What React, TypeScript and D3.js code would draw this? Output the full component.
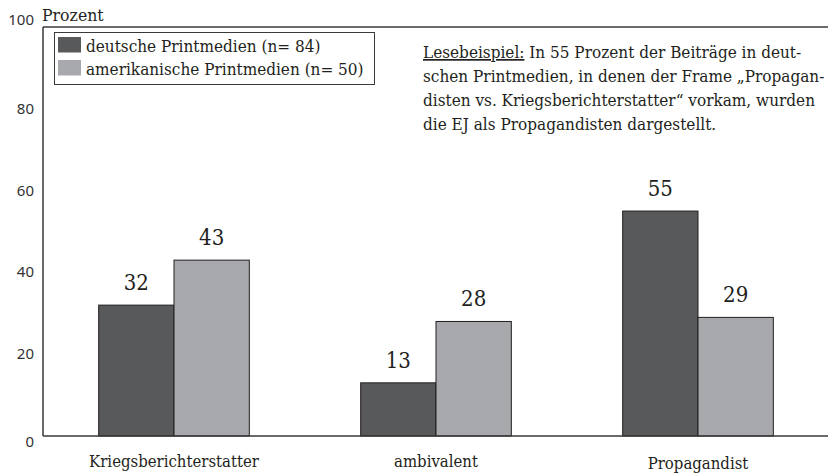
import React, { useEffect, useRef } from 'react';
import * as d3 from 'd3';

const categories = ['Kriegsberichterstatter', 'ambivalent', 'Propagandist'];
const seriesNames = ['deutsche Printmedien (n= 84)', 'amerikanische Printmedien (n= 50)'];
const deutsch = [32, 13, 55];
const amerikanisch = [43, 28, 29];
const yTicks = [0, 20, 40, 60, 80, 100];
const noteLines = [
  'In 55 Prozent der Beiträge in deut-',
  'schen Printmedien, in denen der Frame \u201EPropagan-',
  'disten vs. Kriegsberichterstatter\u201C vorkam, wurden',
  'die EJ als Propagandisten dargestellt.',
];

const colors = ['#58595b', '#a7a9ac'];
const serif = 'DejaVu Serif';
const sans = 'Noto Sans';

function App() {
  const svgRef = useRef<SVGSVGElement>(null);
  const width = 828;
  const height = 473;

  useEffect(() => {
    const svg = d3.select(svgRef.current);
    svg.selectAll('*').remove();

    const left = 43;
    const top = 27;
    const bottom = 436;

    const x = d3.scaleBand().domain(categories).range([left, 829]).paddingInner(0.425).paddingOuter(0.2125);
    const xSub = d3.scaleBand().domain(['d', 'a']).range([0, x.bandwidth()]);
    const y = d3.scaleLinear().domain([0, 100]).range([bottom, top]);

    // bars
    const series = [deutsch, amerikanisch];
    series.forEach((vals, si) => {
      svg.append('g')
        .selectAll('rect')
        .data(vals)
        .enter()
        .append('rect')
        .attr('x', (d, i) => x(categories[i])! + xSub(si === 0 ? 'd' : 'a')!)
        .attr('y', d => y(d))
        .attr('width', xSub.bandwidth())
        .attr('height', d => bottom - y(d))
        .attr('fill', colors[si])
        .attr('stroke', '#231f20')
        .attr('stroke-width', 1);

      svg.append('g')
        .selectAll('text')
        .data(vals)
        .enter()
        .append('text')
        .attr('x', (d, i) => x(categories[i])! + xSub(si === 0 ? 'd' : 'a')! + xSub.bandwidth() / 2)
        .attr('y', d => y(d) - 15)
        .attr('text-anchor', 'middle')
        .attr('font-family', serif)
        .attr('font-stretch', 'condensed')
        .attr('font-size', 22)
        .attr('fill', '#231f20')
        .text(d => d);
    });

    // frame lines
    svg.append('line').attr('x1', left).attr('x2', width).attr('y1', top).attr('y2', top)
      .attr('stroke', '#3a3a3a').attr('stroke-width', 1.5);
    svg.append('line').attr('x1', left).attr('x2', left).attr('y1', top).attr('y2', bottom)
      .attr('stroke', '#3a3a3a').attr('stroke-width', 1.5);
    svg.append('line').attr('x1', left).attr('x2', width).attr('y1', bottom).attr('y2', bottom)
      .attr('stroke', '#3a3a3a').attr('stroke-width', 1.5);

    // y tick labels
    svg.append('g')
      .selectAll('text')
      .data(yTicks)
      .enter()
      .append('text')
      .attr('x', 34)
      .attr('y', d => (d === 100 ? y(d) - 2 : d === 0 ? y(d) + 11 : y(d) + 5))
      .attr('text-anchor', 'end')
      .attr('font-family', sans)
      .attr('font-size', 15)
      .attr('fill', '#333')
      .text(d => d);

    svg.append('text')
      .attr('x', 42).attr('y', 21)
      .attr('font-family', serif).attr('font-stretch', 'condensed').attr('font-size', 17.5)
      .attr('fill', '#231f20')
      .text('Prozent');

    // x category labels
    svg.append('g')
      .selectAll('text')
      .data(categories)
      .enter()
      .append('text')
      .attr('x', d => x(d)! + x.bandwidth() / 2)
      .attr('y', (d, i) => (i === 2 ? 469 : 467))
      .attr('text-anchor', 'middle')
      .attr('font-family', serif)
      .attr('font-stretch', 'condensed')
      .attr('font-size', 16.6)
      .attr('fill', '#231f20')
      .text(d => d);

    // legend
    const lg = svg.append('g');
    lg.append('rect').attr('x', 54.5).attr('y', 32.5).attr('width', 320).attr('height', 52)
      .attr('fill', '#fff').attr('stroke', '#3a3a3a').attr('stroke-width', 1);
    seriesNames.forEach((name, i) => {
      lg.append('rect').attr('x', 58).attr('y', 37 + i * 23).attr('width', 23).attr('height', 15.5)
        .attr('fill', colors[i]);
      lg.append('text').attr('x', 86).attr('y', 52 + i * 23)
        .attr('font-family', serif).attr('font-stretch', 'condensed').attr('font-size', 17)
        .attr('fill', '#231f20')
        .text(name);
    });

    // note
    const note = svg.append('text')
      .attr('font-family', serif).attr('font-stretch', 'condensed').attr('font-size', 17)
      .attr('fill', '#231f20');
    noteLines.forEach((line, i) => {
      const t = note.append('tspan').attr('x', 423).attr('y', 58 + i * 24);
      if (i === 0) {
        t.attr('text-decoration', 'underline').text('Lesebeispiel:');
        note.append('tspan').attr('text-decoration', 'none').text(' ' + line);
      } else {
        t.text(line);
      }
    });
  }, []);

  return (
    <svg ref={svgRef} width={width} height={height} style={{ position: 'absolute', left: 0, top: 0 }}></svg>
  );
}

export default App;
